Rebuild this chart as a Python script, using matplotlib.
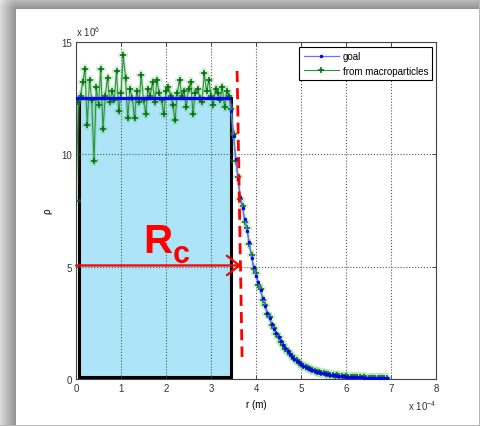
import numpy as np
import matplotlib
matplotlib.use("Agg")
import matplotlib.pyplot as plt
from matplotlib.patches import Rectangle

plt.rcParams['font.family'] = ['Liberation Sans', 'DejaVu Sans']
plt.rcParams['mathtext.default'] = 'regular'

# radius in units of 1e-4 m
r = [0.00, 0.05, 0.10, 0.15, 0.20, 0.25, 0.30, 0.35, 0.40, 0.45,
     0.50, 0.55, 0.60, 0.65, 0.70, 0.75, 0.80, 0.85, 0.90, 0.95,
     1.00, 1.05, 1.10, 1.15, 1.20, 1.25, 1.30, 1.35, 1.40, 1.45,
     1.50, 1.55, 1.60, 1.65, 1.70, 1.75, 1.80, 1.85, 1.90, 1.95,
     2.00, 2.05, 2.10, 2.15, 2.20, 2.25, 2.30, 2.35, 2.40, 2.45,
     2.50, 2.55, 2.60, 2.65, 2.70, 2.75, 2.80, 2.85, 2.90, 2.95,
     3.00, 3.05, 3.10, 3.15, 3.20, 3.25, 3.30, 3.35, 3.40, 3.45,
     3.50, 3.55, 3.60, 3.65, 3.70, 3.75, 3.80, 3.85, 3.90, 3.95,
     4.00, 4.05, 4.10, 4.15, 4.20, 4.25, 4.30, 4.35, 4.40, 4.45,
     4.50, 4.55, 4.60, 4.65, 4.70, 4.75, 4.80, 4.85, 4.90, 4.95,
     5.00, 5.05, 5.10, 5.15, 5.20, 5.25, 5.30, 5.35, 5.40, 5.45,
     5.50, 5.55, 5.60, 5.65, 5.70, 5.75, 5.80, 5.85, 5.90, 5.95,
     6.00, 6.05, 6.10, 6.15, 6.20, 6.25, 6.30, 6.35, 6.40, 6.45,
     6.50, 6.55, 6.60, 6.65, 6.70, 6.75, 6.80, 6.85, 6.90]

# target density profile, units of 1e6
goal = [12.5, 12.5, 12.5, 12.5, 12.5, 12.5, 12.5, 12.5, 12.5, 12.5,
        12.5, 12.5, 12.5, 12.5, 12.5, 12.5, 12.5, 12.5, 12.5, 12.5,
        12.5, 12.5, 12.5, 12.5, 12.5, 12.5, 12.5, 12.5, 12.5, 12.5,
        12.5, 12.5, 12.5, 12.5, 12.5, 12.5, 12.5, 12.5, 12.5, 12.5,
        12.5, 12.5, 12.5, 12.5, 12.5, 12.5, 12.5, 12.5, 12.5, 12.5,
        12.5, 12.5, 12.5, 12.5, 12.5, 12.5, 12.5, 12.5, 12.5, 12.5,
        12.5, 12.5, 12.5, 12.5, 12.5, 12.5, 12.5, 12.5, 12.5, 11.9,
        10.8, 9.8, 8.9, 8.1, 7.6, 7.1, 6.6, 6.1, 5.4, 5.0,
        4.6, 4.3, 3.95, 3.6, 3.25, 2.95, 2.70, 2.45, 2.22, 2.03,
        1.85, 1.68, 1.50, 1.36, 1.24, 1.12, 1.00, 0.90, 0.82, 0.74,
        0.66, 0.60, 0.54, 0.49, 0.44, 0.40, 0.36, 0.33, 0.30, 0.27,
        0.25, 0.23, 0.21, 0.19, 0.17, 0.16, 0.15, 0.14, 0.13, 0.12,
        0.11, 0.10, 0.09, 0.09, 0.08, 0.08, 0.07, 0.07, 0.06, 0.06,
        0.05, 0.05, 0.05, 0.04, 0.04, 0.04, 0.04, 0.03, 0.03]

# density rebuilt from macroparticles, units of 1e6
macro = [7.9, 12.3, 12.6, 13.2, 13.8, 11.3, 13.3, 12.4, 9.7, 13.0,
         12.2, 13.8, 11.1, 12.6, 13.4, 12.3, 12.8, 12.4, 13.7, 11.9,
         12.7, 14.4, 13.4, 11.6, 12.9, 12.5, 11.6, 12.8, 12.3, 13.5,
         12.4, 11.8, 12.9, 12.6, 13.2, 12.3, 13.3, 12.7, 12.4, 11.8,
         12.8, 13.0, 12.6, 12.2, 11.5, 12.7, 13.3, 12.6, 12.8, 12.1,
         12.9, 13.2, 11.8, 12.7, 12.9, 12.5, 12.3, 13.6, 12.8, 13.3,
         12.6, 12.2, 12.9, 12.7, 12.4, 13.0, 12.1, 12.8, 12.6, 12.0,
         10.9, 9.7, 9.0, 8.0, 7.7, 7.0, 6.7, 6.0, 5.5, 4.9,
         4.7, 4.2, 4.0, 3.5, 3.3, 2.9, 2.75, 2.4, 2.25, 2.0,
         1.87, 1.65, 1.52, 1.34, 1.25, 1.10, 1.02, 0.88, 0.83, 0.72,
         0.67, 0.58, 0.55, 0.48, 0.45, 0.39, 0.37, 0.32, 0.31, 0.26,
         0.26, 0.22, 0.22, 0.18, 0.18, 0.15, 0.16, 0.13, 0.14, 0.11,
         0.12, 0.09, 0.10, 0.08, 0.09, 0.07, 0.08, 0.06, 0.07, 0.05,
         0.06, 0.04, 0.05, 0.04, 0.05, 0.03, 0.04, 0.03, 0.03]

# annotation geometry (same units as above)
core_r = [0.06, 3.44]
core_rho = [0.1, 12.5]
rc_line_r = [3.58, 3.69]
rc_line_rho = [13.7, 0.98]
arrow_rho = 5.05
arrow_r = [0.0, 3.67]

W, H = 481, 427
fig = plt.figure(figsize=(W / 100, H / 100), dpi=100)

# drop shadow around the white card
bg = fig.add_axes([0, 0, 1, 1])
yy, xx = np.mgrid[0:H, 0:W]
cx0, cy0, cx1, cy1 = 16, 10, 479, 426
dx = np.clip(cx0 - xx, 0, None)
dy = np.clip(cy0 - yy, 0, None)
d = np.hypot(dx, dy)
shade = np.clip(0.56 + 0.3 * d / 16.0, 0, 0.9)
outside = (xx < cx0) | (yy < cy0)
img = np.ones((H, W))
img[outside] = shade[outside]
img[:, cx1:cx1 + 1] = 0.72
img[cy1:cy1 + 1, :] = 0.72
bg.imshow(np.dstack([img] * 3), aspect='auto', interpolation='bilinear')
bg.axis('off')

ax = fig.add_axes([76 / W, 1 - 380 / H, 360 / W, (380 - 42.7) / H])

ax.add_patch(Rectangle((core_r[0], core_rho[0]), core_r[1] - core_r[0],
                       core_rho[1] - core_rho[0], facecolor='#ade4f7',
                       edgecolor='black', linewidth=2.2, zorder=1))

goal_line, = ax.plot(r, goal, color='#6f6fff', linewidth=0.9, marker='.',
                     markersize=3, markeredgecolor='#0000ff',
                     markerfacecolor='#0000ff', label='goal', zorder=3)
# soft halo under the macroparticle markers
ax.plot(r, macro, color='#5fbf6f', linewidth=2.5, marker='+', markersize=7,
        markeredgewidth=2.6, alpha=0.3, zorder=2)
macro_line, = ax.plot(r, macro, color='#2f9440', linewidth=0.8, marker='+',
                      markersize=4.5, markeredgewidth=1.1,
                      markeredgecolor='#006e0a',
                      label='from macroparticles', zorder=2.1)

ax.plot(rc_line_r, rc_line_rho, color='red', linewidth=2,
        dashes=(4, 2.2), zorder=4)
ax.annotate('', xy=(arrow_r[1], arrow_rho), xytext=(arrow_r[0], arrow_rho),
            arrowprops=dict(arrowstyle='->,head_length=0.9,head_width=0.7',
                            color='red', linewidth=1.6, shrinkA=0, shrinkB=0),
            zorder=4)
ax.text(1.50, 5.64, 'R', color='red', fontsize=29, fontweight='bold',
        ha='left', va='baseline', zorder=5)
ax.text(2.15, 5.2, 'c', color='red', fontsize=22, fontweight='bold',
        ha='left', va='baseline', zorder=5)

ax.set_xlim(0, 8)
ax.set_ylim(0, 15)
ax.set_xticks(range(0, 9))
ax.set_yticks([0, 5, 10, 15])
ax.grid(True, linestyle=':', color='#555555', linewidth=0.8)
ax.tick_params(direction='in', length=3, width=0.6, labelsize=7,
               top=True, right=True, colors='#333333', pad=3)
for sp in ax.spines.values():
    sp.set_color('#444444')
    sp.set_linewidth(0.8)

ax.set_xlabel('r (m)', fontsize=7, labelpad=4)
ax.set_ylabel('ρ', fontsize=7, labelpad=6)

ax.text(0.0, 1.012, 'x 10$^{6}$', transform=ax.transAxes, fontsize=7,
        ha='left', va='bottom', color='#333333')
ax.text(1.0, -0.058, 'x 10$^{-4}$', transform=ax.transAxes, fontsize=7,
        ha='right', va='top', color='#333333')

leg = ax.legend([goal_line, macro_line], ['goal', 'from macroparticles'],
                loc='upper right', bbox_to_anchor=(0.99, 0.984),
                borderaxespad=0, fontsize=7, handlelength=3.6,
                fancybox=False, framealpha=1, edgecolor='black',
                borderpad=0.45, labelspacing=0.45, handletextpad=0.4)
leg.get_frame().set_linewidth(0.8)

fig.savefig('out.png', dpi=100)
